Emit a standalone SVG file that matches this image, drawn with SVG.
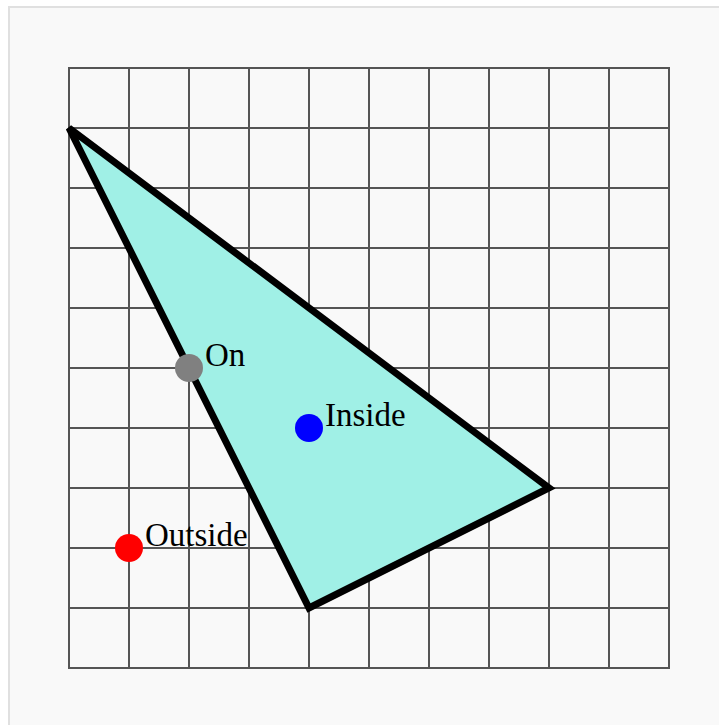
<svg xmlns="http://www.w3.org/2000/svg" width="719" height="725" viewBox="0 0 719 725">
<style>
.grid line{stroke:#555;stroke-width:2}
.lbl{font-family:"Liberation Serif",serif;font-size:33px;fill:#000}
</style>
<rect x="9" y="7" width="720" height="730" fill="#f9f9f9" stroke="#e0e0e0" stroke-width="2"/>
<g id="grid" class="grid">
<line x1="69" y1="68" x2="69" y2="668"/><line x1="129" y1="68" x2="129" y2="668"/><line x1="189" y1="68" x2="189" y2="668"/><line x1="249" y1="68" x2="249" y2="668"/><line x1="309" y1="68" x2="309" y2="668"/><line x1="369" y1="68" x2="369" y2="668"/><line x1="429" y1="68" x2="429" y2="668"/><line x1="489" y1="68" x2="489" y2="668"/><line x1="549" y1="68" x2="549" y2="668"/><line x1="609" y1="68" x2="609" y2="668"/><line x1="669" y1="68" x2="669" y2="668"/>
<line x1="68" y1="68" x2="670" y2="68"/><line x1="68" y1="128" x2="670" y2="128"/><line x1="68" y1="188" x2="670" y2="188"/><line x1="68" y1="248" x2="670" y2="248"/><line x1="68" y1="308" x2="670" y2="308"/><line x1="68" y1="368" x2="670" y2="368"/><line x1="68" y1="428" x2="670" y2="428"/><line x1="68" y1="488" x2="670" y2="488"/><line x1="68" y1="548" x2="670" y2="548"/><line x1="68" y1="608" x2="670" y2="608"/><line x1="68" y1="668" x2="670" y2="668"/>
</g>
<g id="triangle">
<polygon points="69,128 549,488 309,608" fill="#a0f0e6" stroke="#000" stroke-width="7" stroke-linejoin="miter"/>
</g>
<g id="on">
<circle cx="189" cy="368" r="14" fill="#808080"/>
<text class="lbl" x="205" y="366">On</text>
</g>
<g id="inside">
<circle cx="309" cy="428" r="14" fill="#0000ff"/>
<text class="lbl" x="325" y="426">Inside</text>
</g>
<g id="outside">
<circle cx="129" cy="548" r="14" fill="#ff0000"/>
<text class="lbl" x="145" y="546">Outside</text>
</g>
</svg>
